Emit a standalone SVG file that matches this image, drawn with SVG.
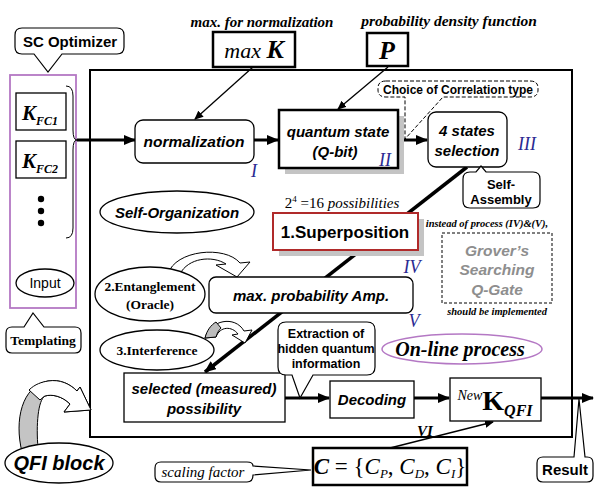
<svg xmlns="http://www.w3.org/2000/svg" width="596" height="489" viewBox="0 0 596 489">
<defs>
<marker id="ah" markerUnits="userSpaceOnUse" markerWidth="12" markerHeight="10" refX="11" refY="5" orient="auto">
<path d="M0,0 L12,5 L0,10 Z" fill="#000"/>
</marker>
<marker id="ahs" markerUnits="userSpaceOnUse" markerWidth="9" markerHeight="8" refX="8" refY="4" orient="auto">
<path d="M0,0 L9,4 L0,8 Z" fill="#000"/>
</marker>
</defs>
<style>
.sb{font-family:"Liberation Sans",Arial,sans-serif;font-weight:bold}
.sbi{font-family:"Liberation Sans",Arial,sans-serif;font-weight:bold;font-style:italic}
.sr{font-family:"Liberation Sans",Arial,sans-serif}
.tb{font-family:"Liberation Serif","Times New Roman",serif;font-weight:bold}
.tbi{font-family:"Liberation Serif","Times New Roman",serif;font-weight:bold;font-style:italic}
.ti{font-family:"Liberation Serif","Times New Roman",serif;font-style:italic}
.tr{font-family:"Liberation Serif","Times New Roman",serif}
.rn{font-family:"Liberation Serif","Times New Roman",serif;font-style:italic;fill:#2a2a92;font-size:18px}
.box{fill:#fff;stroke:#000;stroke-width:1.3}
.thk{fill:none;stroke:#000;stroke-width:3}
.thin{fill:none;stroke:#000;stroke-width:1.3}
text{text-anchor:middle}
</style>

<!-- main block -->
<rect id="main" x="90" y="70" width="482" height="367" fill="#fff" stroke="#000" stroke-width="2"/>

<!-- connectors -->
<g id="connectors">
<line x1="253" y1="67" x2="195" y2="119" class="thin" marker-end="url(#ahs)"/>
<line x1="388" y1="67" x2="338" y2="109" class="thin" marker-end="url(#ahs)"/>
<line x1="77" y1="140" x2="135" y2="140" class="thk" marker-end="url(#ah)"/>
<line x1="254" y1="140" x2="278" y2="140" class="thk" marker-end="url(#ah)"/>
<line x1="398" y1="140" x2="427" y2="140" class="thk" marker-end="url(#ah)"/>
<line x1="467" y1="167" x2="205" y2="372" stroke="#000" stroke-width="3.5" marker-end="url(#ah)"/>
<line x1="285" y1="398" x2="329" y2="398" class="thk" marker-end="url(#ah)"/>
<line x1="414" y1="398" x2="449" y2="398" class="thk" marker-end="url(#ah)"/>
<line x1="541" y1="398" x2="593" y2="398" class="thk" marker-end="url(#ah)"/>
<line x1="390" y1="448" x2="493" y2="422" class="thin" marker-end="url(#ahs)"/>
</g>

<!-- titles -->
<text class="tbi" x="262" y="27" font-size="15">max. for normalization</text>
<text class="tbi" x="449" y="26" font-size="15.5">probability density function</text>

<g id="maxK">
<rect x="213" y="32" width="82" height="35" fill="#fff" stroke="#000" stroke-width="2.5"/>
<text x="254" y="58" font-size="22"><tspan class="ti">max </tspan><tspan class="tbi" font-size="26">K</tspan></text>
</g>
<g id="P">
<rect x="367" y="33" width="41" height="33" fill="#fff" stroke="#000" stroke-width="2.5"/>
<text class="tbi" x="387" y="59" font-size="26">P</text>
</g>

<!-- SC Optimizer callout -->
<g id="scopt">
<path d="M22,28 H117 Q124,28 124,35 V47 Q124,54 117,54 H62 L48,72 L34,54 H22 Q15,54 15,47 V35 Q15,28 22,28 Z" fill="#fff" stroke="#000" stroke-width="1.2"/>
<text class="sb" x="70" y="47" font-size="15">SC Optimizer</text>
</g>

<!-- input column -->
<g id="inputs">
<rect x="10" y="75" width="66" height="233" fill="#fff" stroke="#b478c4" stroke-width="1.8"/>
<rect x="16" y="93" width="50" height="37" class="box"/>
<text x="40" y="120" font-size="21"><tspan class="tbi">K</tspan><tspan class="tbi" font-size="12" dy="5">FC1</tspan></text>
<rect x="16" y="141" width="50" height="37" class="box"/>
<text x="40" y="168" font-size="21"><tspan class="tbi">K</tspan><tspan class="tbi" font-size="12" dy="5">FC2</tspan></text>
<circle cx="41" cy="199" r="3.2"/>
<circle cx="41" cy="211" r="3.2"/>
<circle cx="41" cy="223" r="3.2"/>
<path d="M66,86 Q73,86 73,96 V130 Q73,140 77,140 Q73,140 73,150 V228 Q73,238 66,238" fill="none" stroke="#000" stroke-width="1"/>
<ellipse cx="45" cy="283" rx="29" ry="14" class="box"/>
<text class="sr" x="45" y="288" font-size="14">Input</text>
</g>

<!-- Templating callout -->
<g id="templating">
<path d="M12,327 H24 L33,313 L44,327 H75 Q81,327 81,333 V347 Q81,353 75,353 H12 Q6,353 6,347 V333 Q6,327 12,327 Z" fill="#fff" stroke="#000" stroke-width="1.2"/>
<text class="tb" x="43" y="345" font-size="13.5">Templating</text>
</g>

<!-- normalization -->
<g id="normalization">
<rect x="135" y="120" width="119" height="43" rx="8" class="box"/>
<text class="sbi" x="194" y="147" font-size="15.5">normalization</text>
<text class="rn" x="254" y="177">I</text>
</g>

<!-- quantum state -->
<g id="quantum">
<rect x="285" y="116" width="119" height="58" fill="#c4c4c4"/>
<rect x="279" y="110" width="119" height="58" fill="#fff" stroke="#000" stroke-width="2.5"/>
<text class="sbi" x="338" y="137" font-size="15">quantum state</text>
<text class="sbi" x="335" y="157" font-size="15">(Q-bit)</text>
<text class="rn" x="385" y="166">II</text>
</g>

<!-- correlation callout -->
<g id="correlation">
<path d="M386,81 H530 Q538,81 538,88 V90 Q538,97 530,97 H443 L405,139 V97 H386 Q378,97 378,90 V88 Q378,81 386,81 Z" fill="#fff" stroke="#000" stroke-width="1" stroke-dasharray="4,2"/>
<text class="sb" x="458" y="94" font-size="12">Choice of Correlation type</text>
</g>

<!-- 4 states selection -->
<g id="fourstates">
<rect x="428" y="112" width="79" height="55" rx="8" class="box"/>
<text class="sbi" x="467" y="136" font-size="15">4 states</text>
<text class="sbi" x="467" y="156" font-size="15">selection</text>
<text class="rn" x="527" y="150">III</text>
</g>

<!-- Self-Assembly -->
<g id="selfassembly">
<path d="M470,172 H476 L481,166 L486,172 H533 Q540,172 540,179 V201 Q540,208 533,208 H470 Q463,208 463,201 V179 Q463,172 470,172 Z" fill="#fff" stroke="#000" stroke-width="1.2"/>
<text class="sb" x="501" y="189" font-size="13">Self-</text>
<text class="sb" x="501" y="204" font-size="13">Assembly</text>
</g>

<!-- possibilities -->
<text x="342" y="208" font-size="15" class="tr" text-anchor="middle"><tspan>2</tspan><tspan font-size="9" dy="-6">4</tspan><tspan dy="6"> =16 </tspan><tspan class="ti">possibilities</tspan></text>

<!-- Self-Organization -->
<g id="selforg">
<ellipse cx="177" cy="212" rx="77" ry="21" class="box"/>
<text class="sbi" x="177" y="218" font-size="15">Self-Organization</text>
</g>

<!-- Superposition -->
<g id="superposition">
<rect x="279" y="219" width="145" height="37" fill="#c4c4c4"/>
<rect x="273" y="213" width="145" height="37" fill="#fff" stroke="#b02a2a" stroke-width="2"/>
<text class="sb" x="345" y="238" font-size="17">1.Superposition</text>
<text class="rn" x="412" y="273">IV</text>
</g>

<!-- Grover -->
<g id="grover">
<text class="tbi" x="487" y="227" font-size="10.5">instead of process (IV)&amp;(V),</text>
<rect x="442" y="233" width="110" height="70" fill="#fff" stroke="#000" stroke-width="1" stroke-dasharray="3,2"/>
<text class="sbi" x="497" y="256" font-size="15.5" fill="#8e8e8e">Grover’s</text>
<text class="sbi" x="497" y="275" font-size="15.5" fill="#8e8e8e">Searching</text>
<text class="sbi" x="497" y="295" font-size="15.5" fill="#8e8e8e">Q-Gate</text>
<text class="tbi" x="497" y="315" font-size="10.5">should be implemented</text>
</g>

<!-- entanglement -->
<g id="entanglement">
<path d="M168,274 C175,250 225,245 240,263 L250,262 L237,277 L216,265 L226,264 C212,255 188,258 180,274 Z" fill="#fff" stroke="#000" stroke-width="1"/>
<ellipse cx="150" cy="294" rx="55" ry="27" class="box"/>
<text class="tb" x="150" y="291" font-size="13.5">2.Entanglement</text>
<text class="tb" x="150" y="309" font-size="13.5">(Oracle)</text>
</g>

<!-- max probability -->
<g id="maxprob">
<rect x="209" y="277" width="204" height="36" rx="7" class="box"/>
<text class="sbi" x="311" y="301" font-size="15">max. probability Amp.</text>
<text class="rn" x="414" y="327">V</text>
</g>

<!-- interference -->
<g id="interference">
<path d="M205,338 C210,320 235,315 244,331 L252,330 L245,343 L232,335 L238,334 C232,326 220,326 216,337 Z" fill="#fff" stroke="#000" stroke-width="1"/>
<path d="M205,338 C207,330 211,325 216,322 L221,328 C219,330 217,333 216,337 Z" fill="#bdbdbd" stroke="#000" stroke-width="1"/>
<ellipse cx="157" cy="350" rx="57" ry="20" class="box"/>
<text class="tb" x="157" y="355" font-size="13.5">3.Interference</text>
</g>

<!-- selected possibility -->
<g id="selected">
<rect x="124" y="373" width="161" height="49" class="box"/>
<text class="sbi" x="204" y="394" font-size="15">selected (measured)</text>
<text class="sbi" x="204" y="414" font-size="15">possibility</text>
</g>

<!-- extraction callout -->
<g id="extraction">
<path d="M286,322 H367 Q375,322 375,330 V367 Q375,375 367,375 H313 L300,398 L292,375 H286 Q278,375 278,367 V330 Q278,322 286,322 Z" fill="#fff" stroke="#000" stroke-width="1.2"/>
<text class="sb" x="326" y="338" font-size="12.5">Extraction of</text>
<text class="sb" x="326" y="353" font-size="12.5">hidden quantum</text>
<text class="sb" x="326" y="368" font-size="12.5">information</text>
</g>

<!-- on-line process -->
<g id="online">
<ellipse cx="462" cy="349" rx="80" ry="15" fill="#fff" stroke="#b478c4" stroke-width="1.5"/>
<text class="tbi" x="460" y="356" font-size="20">On-line process</text>
</g>

<!-- Decoding -->
<g id="decoding">
<rect x="330" y="381" width="84" height="37" class="box"/>
<text class="sbi" x="372" y="405" font-size="15">Decoding</text>
</g>

<!-- New K_QFI -->
<g id="kqfi">
<rect x="450" y="378" width="91" height="43" class="box"/>
<text x="495" y="410" text-anchor="middle"><tspan class="ti" font-size="14" dy="-10">New</tspan><tspan class="tb" font-size="28" dy="10">K</tspan><tspan class="tbi" font-size="16" dy="6">QFI</tspan></text>
<text class="tbi" x="425" y="436" font-size="15">VI</text>
</g>

<!-- Result -->
<g id="result">
<path d="M543,457 H574 L579,399 L585,457 H587 Q593,457 593,463 V476 Q593,482 587,482 H543 Q537,482 537,476 V463 Q537,457 543,457 Z" fill="#fff" stroke="#000" stroke-width="1.2"/>
<text class="sb" x="565" y="475" font-size="15">Result</text>
</g>

<!-- C box -->
<g id="cbox">
<rect x="313" y="448" width="154" height="37" fill="#fff" stroke="#000" stroke-width="2.5"/>
<text x="390" y="474" font-size="23" class="tr"><tspan class="tbi">C</tspan><tspan> = {</tspan><tspan class="ti">C</tspan><tspan class="ti" font-size="13" dy="4">P</tspan><tspan dy="-4">, </tspan><tspan class="ti">C</tspan><tspan class="ti" font-size="13" dy="4">D</tspan><tspan dy="-4">, </tspan><tspan class="ti">C</tspan><tspan class="ti" font-size="13" dy="4">I</tspan><tspan dy="-4">}</tspan></text>
</g>

<!-- scaling factor -->
<g id="scaling">
<path d="M161,462 H247 Q253,462 253,466 L311,470 L253,475 Q253,482 247,482 H161 Q155,482 155,476 V468 Q155,462 161,462 Z" fill="#fff" stroke="#000" stroke-width="1.2"/>
<text class="ti" x="203" y="477" font-size="15">scaling factor</text>
</g>

<!-- QFI block -->
<g id="qfiblock">
<path d="M22,452 C14,420 22,386 48,381 C60,379 70,384 77,391 L80,387 L91,410 L64,412 L70,404 C62,396 52,394 45,396 C38,400 36,425 38,448 Z" fill="#c4c4c4" stroke="#000" stroke-width="1"/>
<path d="M29,390 C35,384 42,382 48,381 C60,379 70,384 77,391 L80,387 L91,410 L64,412 L70,404 C62,396 52,394 45,396 C43,397 42,398 40,400 Z" fill="#fff" stroke="#000" stroke-width="1"/>
<ellipse cx="59" cy="463" rx="54" ry="20" class="box"/>
<text class="sbi" x="59" y="470" font-size="20">QFI block</text>
</g>
</svg>
